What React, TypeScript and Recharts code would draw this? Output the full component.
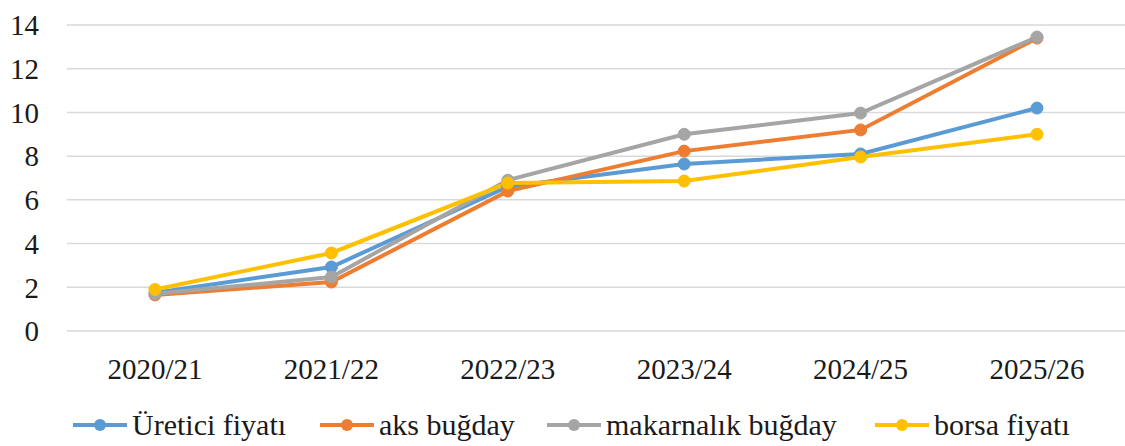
import React from "react";
import { LineChart, Line, XAxis, YAxis, CartesianGrid, Legend } from "recharts";

const categories = ["2020/21", "2021/22", "2022/23", "2023/24", "2024/25", "2025/26"];
const ureticiFiyati = [1.75, 2.93, 6.6, 7.64, 8.1, 10.2];
const aksBugday = [1.65, 2.24, 6.4, 8.23, 9.2, 13.4];
const makarnalikBugday = [1.7, 2.47, 6.9, 9.0, 9.97, 13.45];
const borsaFiyati = [1.9, 3.57, 6.77, 6.86, 7.96, 9.0];
const yTicks = [0, 2, 4, 6, 8, 10, 12, 14];

const seriesNames = ["Üretici fiyatı", "aks buğday", "makarnalık buğday", "borsa fiyatı"];
const colors = ["#5B9BD5", "#ED7D31", "#A5A5A5", "#FFC000"];
const legendItemWidths = [247, 227, 328, 220];

const data = categories.map((c, i) => ({
  name: c,
  s0: ureticiFiyati[i],
  s1: aksBugday[i],
  s2: makarnalikBugday[i],
  s3: borsaFiyati[i],
}));

const FONT = "Liberation Serif, DejaVu Serif, serif";

const renderLegend = () => (
  <div
    style={{
      display: "flex",
      justifyContent: "flex-start",
      alignItems: "center",
      fontFamily: FONT,
      fontSize: 30,
      color: "#1a1a1a",
      paddingLeft: 72,
      lineHeight: "36px",
    }}
  >
    {seriesNames.map((n, i) => (
      <div key={n} style={{ display: "flex", alignItems: "center", width: legendItemWidths[i], whiteSpace: "nowrap" }}>
        <svg width={56} height={20} style={{ marginRight: 4, flexShrink: 0 }}>
          <line x1={1} y1={10} x2={55} y2={10} stroke={colors[i]} strokeWidth={4} />
          <circle cx={28} cy={10} r={6} fill={colors[i]} />
        </svg>
        <span>{n}</span>
      </div>
    ))}
  </div>
);

export default function App() {
  return (
    <div style={{ position: "absolute", left: 0, top: 0, background: "#fff", fontFamily: FONT }}>
      <LineChart width={1125} height={446} data={data} margin={{ top: 25, right: 0, bottom: 19, left: 0 }}>
        <CartesianGrid vertical={false} stroke="#d9d9d9" strokeWidth={1.5} />
        <XAxis
          dataKey="name"
          axisLine={false}
          tickLine={false}
          height={60}
          tickMargin={21}
          padding={{ left: 88, right: 88 }}
          tick={{ fontFamily: FONT, fontSize: 29, fill: "#1a1a1a" }}
        />
        <YAxis
          domain={[0, 14]}
          ticks={yTicks}
          axisLine={false}
          tickLine={false}
          width={67}
          tickMargin={22}
          tick={{ fontFamily: FONT, fontSize: 29, fill: "#1a1a1a" }}
        />
        <Legend
          verticalAlign="bottom"
          content={renderLegend}
          wrapperStyle={{ position: "absolute", left: 0, top: 407, width: 1125, height: 36 }}
        />
        {["s0", "s1", "s2", "s3"].map((k, i) => (
          <Line
            key={k}
            dataKey={k}
            name={seriesNames[i]}
            stroke={colors[i]}
            strokeWidth={4}
            dot={{ r: 6, fill: colors[i], stroke: colors[i], strokeWidth: 1 }}
            activeDot={false}
            isAnimationActive={false}
          />
        ))}
      </LineChart>
    </div>
  );
}
